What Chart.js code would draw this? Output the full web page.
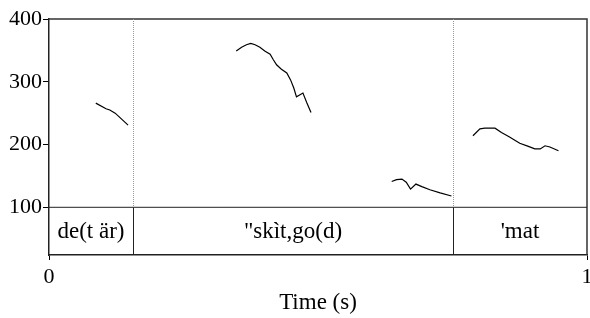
<!DOCTYPE html>
<html>
<head>
<meta charset="utf-8">
<script src="https://cdn.jsdelivr.net/npm/chart.js@4.4.1/dist/chart.umd.min.js"></script>
<style>
  body { margin: 0; background: #fff; }
  canvas { display: block; }
</style>
</head>
<body>
<canvas id="pitch" width="590" height="318"></canvas>
<script>
// pitch contour pieces (time in s, F0 in Hz)
const seg1T = [0.087, 0.106, 0.113, 0.123, 0.147];
const seg1F = [266, 257, 255, 250, 231];

const seg2T = [0.348, 0.358, 0.367, 0.375, 0.383, 0.392, 0.401, 0.411, 0.417, 0.423, 0.432, 0.442, 0.449, 0.455, 0.460, 0.472, 0.479, 0.487];
const seg2F = [349, 355, 359, 361, 359, 355, 349, 344, 335, 327, 320, 314, 303, 290, 276, 282, 267, 251];

const seg3T = [0.637, 0.646, 0.656, 0.664, 0.672, 0.682, 0.693, 0.708, 0.727, 0.748];
const seg3F = [141, 144, 145, 140, 129, 137, 133, 128, 123, 118];

const seg4T = [0.788, 0.801, 0.810, 0.829, 0.841, 0.856, 0.875, 0.891, 0.903, 0.913, 0.922, 0.931, 0.947];
const seg4F = [214, 225, 226, 226, 219, 212, 202, 197, 193, 193, 198, 196, 190];

// text tier
const tierBounds = [0, 0.156, 0.751, 1];
const tierLabels = ["de(t är)", "\"skìt,go(d)", "'mat"];

const yTicks = [100, 200, 300, 400];
const yMin = 24;   // bottom of the tier
const yMax = 400;
const tierTop = 100;

const FONT = "'Liberation Serif', 'Times New Roman', serif";

function toPoints(ts, fs) {
  return ts.map((t, i) => ({ x: t, y: fs[i] }));
}

function segDataset(ts, fs) {
  return {
    data: toPoints(ts, fs),
    showLine: true,
    borderColor: "#000",
    borderWidth: 1.2,
    pointRadius: 0,
    tension: 0,
  };
}

// draws the frame, the tier and its labels
const tierPlugin = {
  id: "tier",
  afterDatasetsDraw(chart) {
    const { ctx, chartArea, scales } = chart;
    const xs = scales.x, ys = scales.y;
    const yTier = ys.getPixelForValue(tierTop);
    ctx.save();

    // top and right frame
    ctx.strokeStyle = "#333";
    ctx.lineWidth = 1.5;
    ctx.beginPath();
    ctx.moveTo(chartArea.left, chartArea.top);
    ctx.lineTo(chartArea.right, chartArea.top);
    ctx.lineTo(chartArea.right, chartArea.bottom);
    ctx.stroke();

    // tier top line
    ctx.lineWidth = 1;
    ctx.strokeStyle = "#222";
    ctx.beginPath();
    ctx.moveTo(chartArea.left, yTier);
    ctx.lineTo(chartArea.right, yTier);
    ctx.stroke();

    // boundaries: dotted above, solid in the tier
    tierBounds.slice(1, -1).forEach((b) => {
      const x = Math.round(xs.getPixelForValue(b)) + 0.5;
      ctx.strokeStyle = "#999";
      ctx.setLineDash([1, 1]);
      ctx.beginPath();
      ctx.moveTo(x, chartArea.top);
      ctx.lineTo(x, yTier);
      ctx.stroke();
      ctx.setLineDash([]);
      ctx.strokeStyle = "#222";
      ctx.beginPath();
      ctx.moveTo(x, yTier);
      ctx.lineTo(x, chartArea.bottom);
      ctx.stroke();
    });

    // labels
    ctx.fillStyle = "#000";
    ctx.font = "23px " + FONT;
    ctx.textAlign = "center";
    ctx.textBaseline = "middle";
    tierLabels.forEach((lab, i) => {
      const x = (xs.getPixelForValue(tierBounds[i]) + xs.getPixelForValue(tierBounds[i + 1])) / 2;
      ctx.fillText(lab, x, (yTier + chartArea.bottom) / 2 + 1);
    });
    ctx.restore();
  },
};

function makeChart() {
  return new Chart(document.getElementById("pitch"), {
    type: "scatter",
    data: {
      datasets: [
        segDataset(seg1T, seg1F),
        segDataset(seg2T, seg2F),
        segDataset(seg3T, seg3F),
        segDataset(seg4T, seg4F),
      ],
    },
    options: {
      responsive: false,
      devicePixelRatio: 1,
      animation: false,
      layout: { padding: { top: 19, right: 3, left: 0, bottom: 0 } },
      plugins: { legend: { display: false }, tooltip: { enabled: false } },
      scales: {
        x: {
          type: "linear",
          min: 0,
          max: 1,
          afterBuildTicks: (s) => { s.ticks = [{ value: 0 }, { value: 1 }]; },
          afterFit: (s) => {
            s.height = 63;
            s.paddingLeft = 0;
            s.paddingRight = 0;
          },
          ticks: { color: "#000", padding: 4, maxRotation: 0, font: { family: FONT, size: 22 } },
          grid: { drawOnChartArea: false, tickLength: 5, color: "#000" },
          border: { color: "#222", width: 1.5 },
          title: {
            display: true,
            text: "Time (s)",
            color: "#000",
            padding: { top: 0, bottom: 1 },
            font: { family: FONT, size: 23 },
          },
        },
        y: {
          type: "linear",
          min: yMin,
          max: yMax,
          afterBuildTicks: (s) => { s.ticks = yTicks.map((v) => ({ value: v })); },
          afterFit: (s) => {
            s.width = 49;
            s.paddingTop = 0;
            s.paddingBottom = 0;
          },
          ticks: { color: "#000", padding: 1, font: { family: FONT, size: 22 } },
          grid: { drawOnChartArea: false, tickLength: 6, color: "#000" },
          border: { color: "#222", width: 1.5 },
        },
      },
    },
    plugins: [tierPlugin],
  });
}

let pitchChart;
document.fonts.load("22px 'Liberation Serif'").then(() => {
  pitchChart = makeChart();
}, () => {
  pitchChart = makeChart();
});
</script>
</body>
</html>
